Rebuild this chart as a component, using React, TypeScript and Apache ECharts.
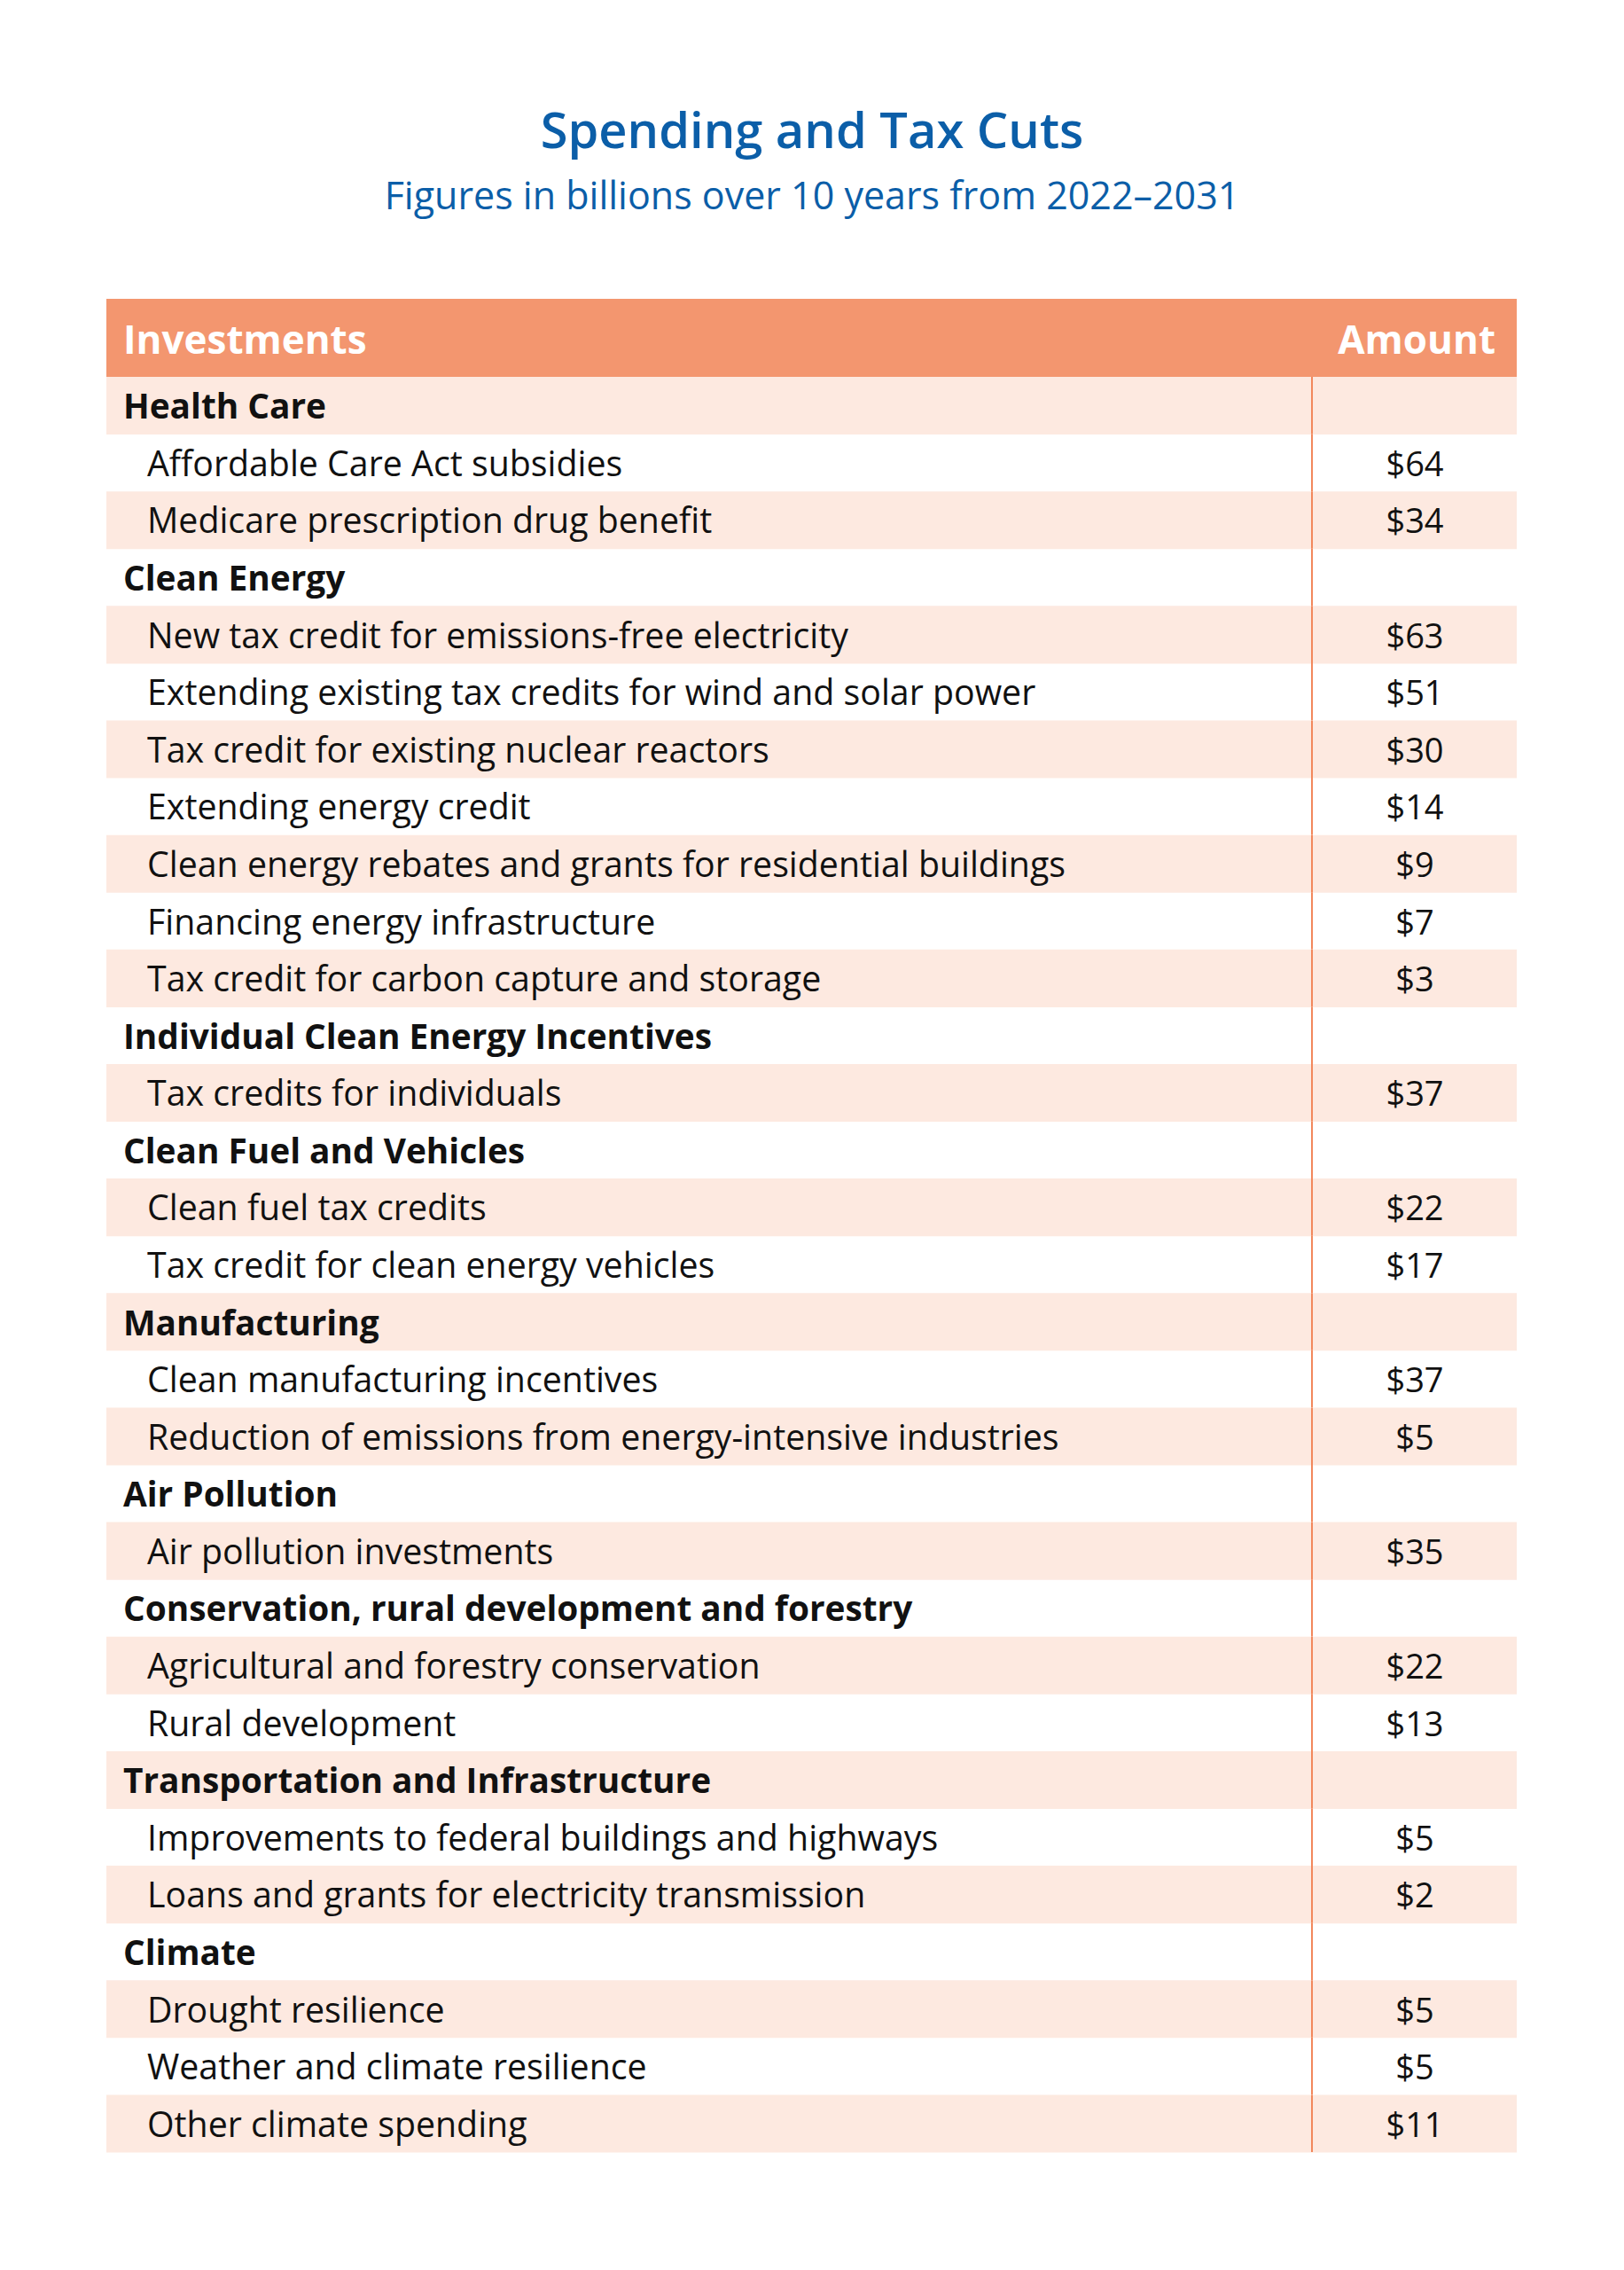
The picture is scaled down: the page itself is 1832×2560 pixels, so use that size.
import React, { useEffect, useRef } from "react";
import * as echarts from "echarts";

const titleText = "Spending and Tax Cuts";
const subtitleText = "Figures in billions over 10 years from 2022–2031";
const headerLabels = ["Investments", "Amount"];

const rowLabels = [
  "Health Care",
  "Affordable Care Act subsidies",
  "Medicare prescription drug benefit",
  "Clean Energy",
  "New tax credit for emissions-free electricity",
  "Extending existing tax credits for wind and solar power",
  "Tax credit for existing nuclear reactors",
  "Extending energy credit",
  "Clean energy rebates and grants for residential buildings",
  "Financing energy infrastructure",
  "Tax credit for carbon capture and storage",
  "Individual Clean Energy Incentives",
  "Tax credits for individuals",
  "Clean Fuel and Vehicles",
  "Clean fuel tax credits",
  "Tax credit for clean energy vehicles",
  "Manufacturing",
  "Clean manufacturing incentives",
  "Reduction of emissions from energy-intensive industries",
  "Air Pollution",
  "Air pollution investments",
  "Conservation, rural development and forestry",
  "Agricultural and forestry conservation",
  "Rural development",
  "Transportation and Infrastructure",
  "Improvements to federal buildings and highways",
  "Loans and grants for electricity transmission",
  "Climate",
  "Drought resilience",
  "Weather and climate resilience",
  "Other climate spending",
];

// null marks a group heading row
const amounts: (number | null)[] = [
  null, 64, 34,
  null, 63, 51, 30, 14, 9, 7, 3,
  null, 37,
  null, 22, 17,
  null, 37, 5,
  null, 35,
  null, 22, 13,
  null, 5, 2,
  null, 5, 5, 11,
];

const BLUE = "#0B5EA8";
const HEADER = "#F3966F";
const BAND = "#FDE9E0";
const DIVIDER = "#F2885C";
const FONT = "'Open Sans', 'Noto Sans', sans-serif";

export default function App() {
  const ref = useRef<HTMLDivElement>(null);

  useEffect(() => {
    document.body.style.margin = "0";
    const chart = echarts.init(ref.current!, null, { renderer: "svg" });
    const tableLeft = 120;
    const tableRight = 1711;
    const tableW = tableRight - tableLeft;
    const rowsTop = 425;
    const rowH = 64.58;
    const dividerFrac = (1480 - tableLeft) / tableW;
    const amountFrac = (1596 - tableLeft) / tableW;

    chart.setOption({
      animation: false,
      backgroundColor: "#ffffff",
      grid: {
        left: tableLeft,
        width: tableW,
        top: rowsTop,
        height: rowH * rowLabels.length,
      },
      xAxis: { type: "value", min: 0, max: 1, show: false },
      yAxis: {
        type: "category",
        inverse: true,
        data: rowLabels.map((_, i) => String(i)),
        show: false,
      },
      graphic: [
        {
          type: "text",
          x: 916,
          y: 145,
          style: {
            text: titleText,
            fill: BLUE,
            font: `600 56px ${FONT}`,
            align: "center",
            verticalAlign: "middle",
          },
        },
        {
          type: "text",
          x: 916,
          y: 219,
          style: {
            text: subtitleText,
            fill: BLUE,
            font: `normal 43px ${FONT}`,
            align: "center",
            verticalAlign: "middle",
          },
        },
        {
          type: "rect",
          shape: { x: tableLeft, y: 337, width: tableW, height: rowsTop - 337 },
          style: { fill: HEADER },
        },
        {
          type: "text",
          x: 139,
          y: 382,
          style: {
            text: headerLabels[0],
            fill: "#ffffff",
            font: `bold 44px ${FONT}`,
            align: "left",
            verticalAlign: "middle",
          },
        },
        {
          type: "text",
          x: 1687,
          y: 382,
          style: {
            text: headerLabels[1],
            fill: "#ffffff",
            font: `bold 44px ${FONT}`,
            align: "right",
            verticalAlign: "middle",
          },
        },
      ],
      series: [
        {
          type: "custom",
          data: rowLabels.map((label, i) => [0, i, amounts[i] == null ? -1 : amounts[i]]),
          encode: { x: 0, y: 1 },
          renderItem: (params: any, api: any) => {
            const i = api.value(1);
            const label = rowLabels[i];
            const amt = amounts[i];
            const isGroup = amt == null;
            const [x0, yc] = api.coord([0, i]);
            const [x1] = api.coord([1, i]);
            const [xd] = api.coord([dividerFrac, i]);
            const [xa] = api.coord([amountFrac, i]);
            const h = api.size([0, 1])[1];
            const children: any[] = [];
            if (i % 2 === 0) {
              children.push({
                type: "rect",
                shape: { x: x0, y: yc - h / 2, width: x1 - x0, height: h + 0.5 },
                style: { fill: BAND },
              });
            }
            children.push({
              type: "line",
              shape: { x1: xd, y1: yc - h / 2, x2: xd, y2: yc + h / 2 },
              style: { stroke: DIVIDER, lineWidth: 2 },
            });
            children.push({
              type: "text",
              style: {
                text: label,
                x: x0 + (isGroup ? 19 : 46),
                y: yc,
                fill: "#111111",
                font: isGroup ? `bold 38.8px ${FONT}` : `normal 39.3px ${FONT}`,
                align: "left",
                verticalAlign: "middle",
              },
            });
            if (!isGroup) {
              children.push({
                type: "text",
                style: {
                  text: "$" + amt,
                  x: xa,
                  y: yc,
                  fill: "#111111",
                  font: `normal 38px ${FONT}`,
                  align: "center",
                  verticalAlign: "middle",
                },
              });
            }
            return { type: "group", children };
          },
        },
      ],
    });
    return () => chart.dispose();
  }, []);

  return (
    <div
      ref={ref}
      style={{ position: "absolute", left: 0, top: 0, width: 1832, height: 2560 }}
    />
  );
}
